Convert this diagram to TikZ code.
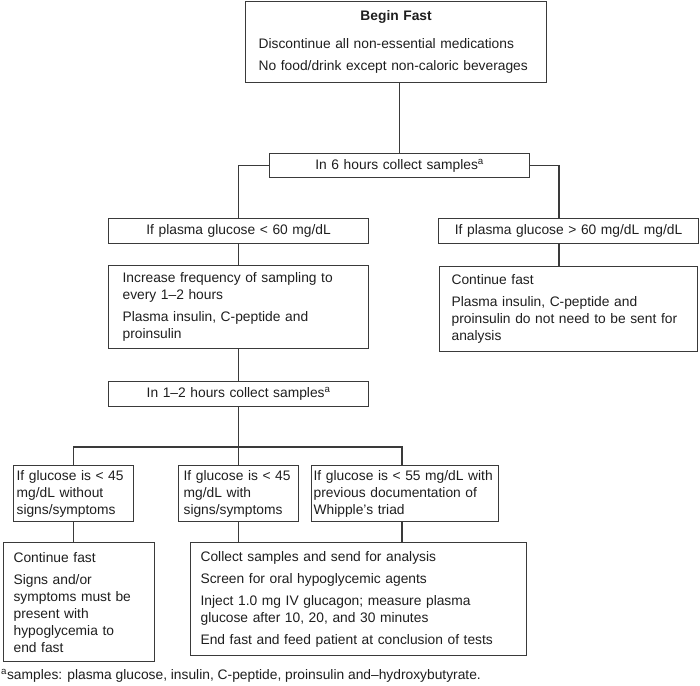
\documentclass[tikz,border=0pt]{standalone}
\usepackage{fontspec}
\setmainfont{Liberation Sans}
\definecolor{linec}{HTML}{3A3A3A}
\definecolor{txtc}{HTML}{1E1E1E}
\newcommand{\mainsz}{\fontsize{13.8pt}{17pt}\selectfont}
\tikzset{
  box/.style={draw=linec, line width=1.2pt, rectangle, anchor=north west,
    inner ysep=0pt, font=\mainsz, text=txtc},
  cbox/.style={box, align=center, inner xsep=0pt},
  lbox/.style={box, align=left},
  conn/.style={draw=linec, line width=1.2pt},
}
\begin{document}
\begin{tikzpicture}[x=1pt,y=-1pt]
\useasboundingbox (0,0) rectangle (700,685);
% top box
\node[lbox, minimum width=301pt, minimum height=81pt, text width=275pt, inner xsep=13pt] (top) at (245,1)
 {\makebox[275pt]{\textbf{Begin Fast}}\\[11pt]
  Discontinue all non-essential medications\\[5pt]
  No food/drink except non-caloric beverages};
\node[cbox, minimum width=260pt, minimum height=24pt, text width=260pt] (six) at (269,153)
 {In 6 hours collect samples\textsuperscript{a}};
\node[cbox, minimum width=260pt, minimum height=25pt, text width=260pt] (lt) at (108,218)
 {If plasma glucose < 60 mg/dL};
\node[cbox, minimum width=260pt, minimum height=25pt, text width=260pt] (rt) at (438,218)
 {If plasma glucose > 60 mg/dL mg/dL};
\node[lbox, minimum width=260pt, minimum height=83pt, text width=232pt, inner xsep=14pt] (inc) at (108,265)
 {Increase frequency of sampling to\\every 1--2 hours\\[5pt]
  Plasma insulin, C-peptide and\\proinsulin};
\node[lbox, minimum width=258pt, minimum height=85pt, text width=234pt, inner xsep=12pt] (cont) at (439,266)
 {Continue fast\\[5pt]
  Plasma insulin, C-peptide and\\proinsulin do not need to be sent for\\analysis};
\node[cbox, minimum width=260pt, minimum height=25pt, text width=260pt] (one2) at (108,381)
 {In 1--2 hours collect samples\textsuperscript{a}};
\node[lbox, minimum width=120pt, minimum height=56pt, text width=114pt, inner xsep=3pt] (g1) at (13,465)
 {If glucose is < 45\\mg/dL without\\signs/symptoms};
\node[lbox, minimum width=120pt, minimum height=56pt, text width=110pt, inner xsep=5pt] (g2) at (178,465)
 {If glucose is < 45\\mg/dL with\\signs/symptoms};
\node[lbox, minimum width=187pt, minimum height=56pt, text width=183pt, inner xsep=2pt] (g3) at (311,465)
 {If glucose is < 55 mg/dL with\\previous documentation of\\Whipple’s triad};
\node[lbox, minimum width=151pt, minimum height=119pt, text width=131pt, inner xsep=10pt] (b1) at (3,542)
 {Continue fast\\[5pt]
  Signs and/or\\symptoms must be\\present with\\hypoglycemia to\\end fast};
\node[lbox, minimum width=336pt, minimum height=113pt, text width=316pt, inner xsep=10pt] (b2) at (190,542)
 {Collect samples and send for analysis\\[5pt]
  Screen for oral hypoglycemic agents\\[5pt]
  Inject 1.0 mg IV glucagon; measure plasma\\glucose after 10, 20, and 30 minutes\\[5pt]
  End fast and feed patient at conclusion of tests};
\node[anchor=west, inner sep=0pt, font=\mainsz, text=txtc] (fn) at (1,676)
 {\textsuperscript{a}samples: plasma glucose, insulin, C-peptide, proinsulin and–hydroxybutyrate.};
% connectors
\coordinate (rtc) at (559,230);
\coordinate (j3) at (402,447);
\coordinate (br) at (238,447);
\draw[conn] (six.north) -- (six.north |- top.south);
\draw[conn] (six.west) -| (lt.north);
\draw[conn] (six.east) -| (rtc |- rt.north);
\draw[conn] (lt.south) -- (inc.north);
\draw[conn] (rtc |- rt.south) -- (rtc |- cont.north);
\draw[conn] (inc.south) -- (one2.north);
\draw[conn] (one2.south) -- (g2.north);
\draw[conn] (g1.north) |- (j3) -- (j3 |- g3.north);
\draw[conn] (g1.south) -- (g1.south |- b1.north);
\draw[conn] (g2.south) -- (g2.south |- b2.north);
\draw[conn] (j3 |- g3.south) -- (j3 |- b2.north);
\end{tikzpicture}
\end{document}
